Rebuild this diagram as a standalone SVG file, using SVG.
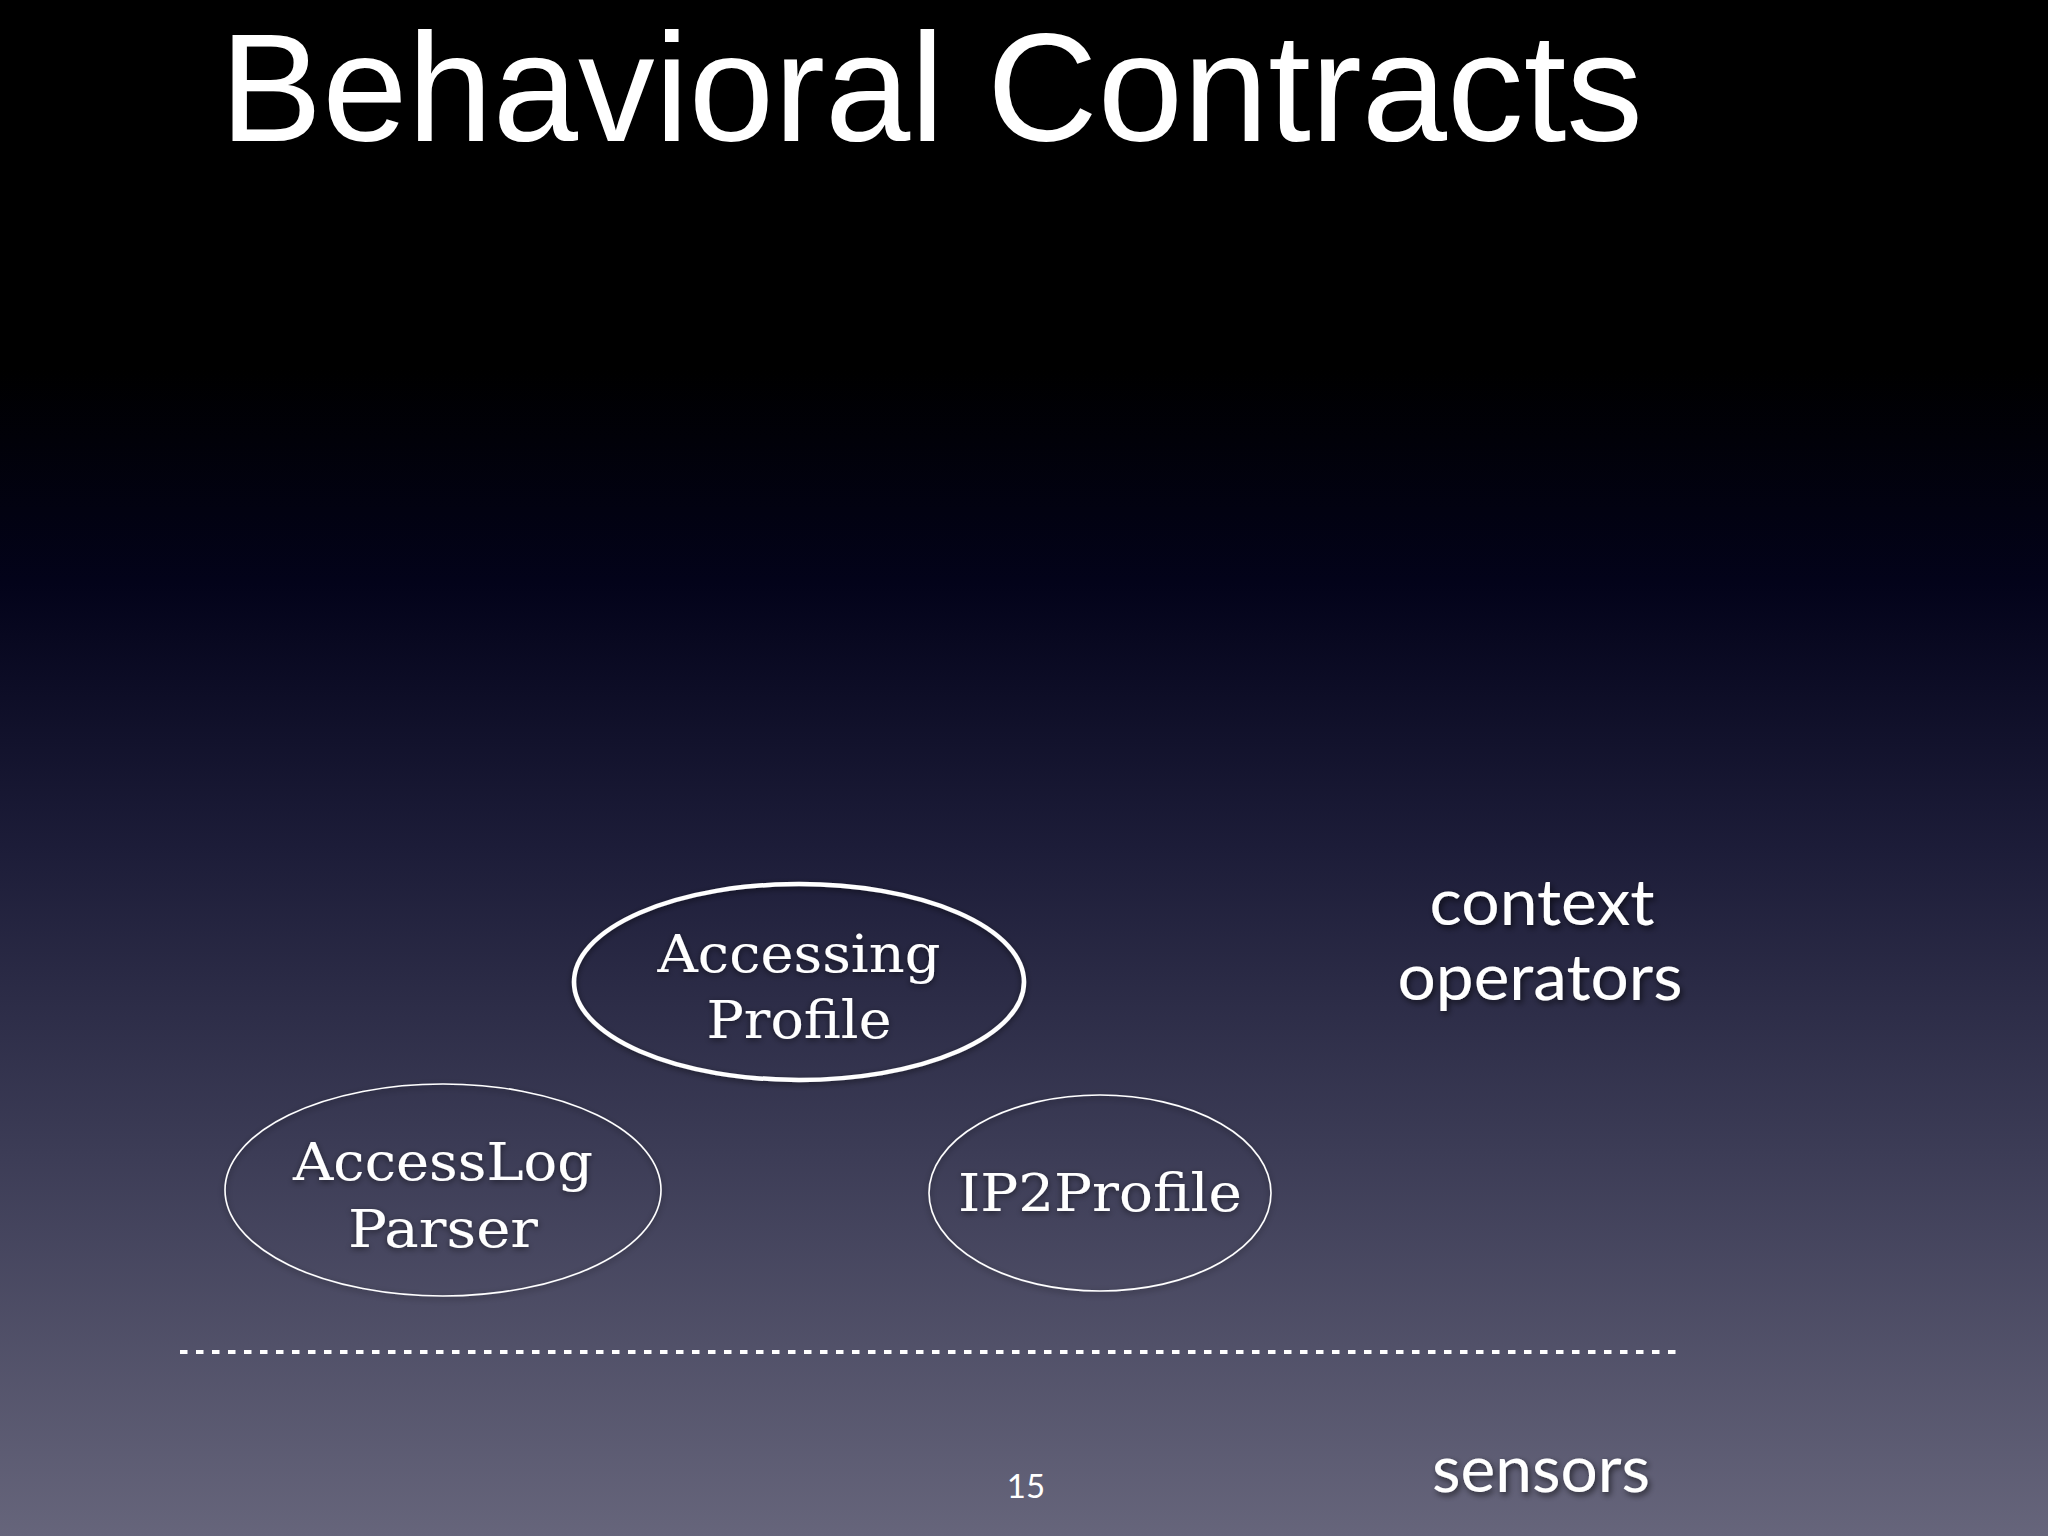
<svg xmlns="http://www.w3.org/2000/svg" width="2048" height="1536" viewBox="0 0 2048 1536">
<defs>
<linearGradient id="bg" x1="0" y1="0" x2="0" y2="1">
<stop offset="0" stop-color="#000000"/>
<stop offset="0.24" stop-color="#000000"/>
<stop offset="0.38" stop-color="#03031a"/>
<stop offset="0.55" stop-color="#1c1c38"/>
<stop offset="0.75" stop-color="#3c3c56"/>
<stop offset="1" stop-color="#66657b"/>
</linearGradient>
<filter id="sh" x="-10%" y="-20%" width="120%" height="150%">
<feDropShadow dx="2" dy="3" stdDeviation="3" flood-color="#000" flood-opacity="0.6"/>
</filter>
<filter id="glow" x="-10%" y="-20%" width="120%" height="140%">
<feDropShadow dx="0" dy="2" stdDeviation="3" flood-color="#000" flood-opacity="0.5"/>
</filter>
</defs>
<style>
.title{font-family:"Liberation Sans",Lato,sans-serif;font-size:154px;fill:#fff}
.lbl{font-family:Lato,"Liberation Sans",sans-serif;font-size:64px;fill:#fff;text-anchor:middle}
.node{font-family:"DejaVu Serif","Liberation Serif",serif;font-size:52px;fill:#fff;text-anchor:middle}
.ell{fill:none;stroke:#fff}
.pg{font-family:Lato,"Liberation Sans",sans-serif;font-size:33px;fill:#fff;text-anchor:middle}
</style>
<rect width="2048" height="1536" fill="url(#bg)"/>
<text class="title" x="220" y="141" textLength="1423" lengthAdjust="spacingAndGlyphs">Behavioral Contracts</text>
<g id="connectors"></g>
<g id="accessing-profile" filter="url(#glow)">
<ellipse class="ell" cx="799" cy="982" rx="225" ry="98" stroke-width="4.5"/>
<text class="node" x="799" y="972" textLength="283" lengthAdjust="spacingAndGlyphs">Accessing</text>
<text class="node" x="799" y="1038" textLength="185" lengthAdjust="spacingAndGlyphs">Profile</text>
</g>
<g id="accesslog-parser" filter="url(#glow)">
<ellipse class="ell" cx="443" cy="1190" rx="218" ry="106" stroke-width="1.6"/>
<text class="node" x="443" y="1180" textLength="300" lengthAdjust="spacingAndGlyphs">AccessLog</text>
<text class="node" x="443" y="1247" textLength="190" lengthAdjust="spacingAndGlyphs">Parser</text>
</g>
<g id="ip2profile" filter="url(#glow)">
<ellipse class="ell" cx="1100" cy="1193" rx="171" ry="98" stroke-width="1.6"/>
<text class="node" x="1100" y="1211" textLength="284" lengthAdjust="spacingAndGlyphs">IP2Profile</text>
</g>
<g id="labels" filter="url(#sh)">
<text class="lbl" x="1542" y="925" textLength="225" lengthAdjust="spacingAndGlyphs">context</text>
<text class="lbl" x="1540" y="1000" textLength="285" lengthAdjust="spacingAndGlyphs">operators</text>
<text class="lbl" x="1541" y="1492" textLength="218" lengthAdjust="spacingAndGlyphs">sensors</text>
</g>
<line x1="180" y1="1352" x2="1677" y2="1352" stroke="#fff" stroke-width="4" stroke-dasharray="7.5 8.5"/>
<text class="pg" x="1026" y="1498">15</text>
</svg>
